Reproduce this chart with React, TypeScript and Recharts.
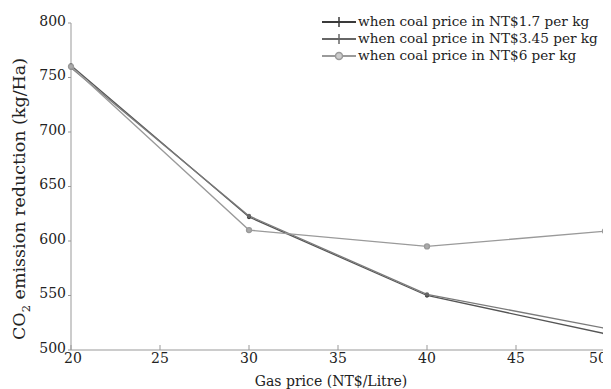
import React from 'react'
import { LineChart, Line, XAxis, YAxis } from 'recharts';

const gasPrice = [20, 30, 40, 50];
const coal17 = [761, 622, 550, 515];
const coal345 = [759, 623, 551, 520];
const coal6 = [760, 610, 595, 609];
const yTicks = [500, 550, 600, 650, 700, 750, 800];
const xTicks = [20, 25, 30, 35, 40, 45, 50];

const data = gasPrice.map((g, i) => ({
    gas: g,
    c1: coal17[i],
    c2: coal345[i],
    c3: coal6[i],
}));

const FONT = '"DejaVu Serif", serif';

const legendItems = [
    { label: 'when coal price in NT$1.7 per kg', color: '#3a3a3a', marker: 'plus' },
    { label: 'when coal price in NT$3.45 per kg', color: '#666', marker: 'plus' },
    { label: 'when coal price in NT$6 per kg', color: '#9a9a9a', marker: 'circle' },
];

const LegendBox = () => (
    <div style={{ position: 'absolute', left: 314, top: 5, fontFamily: FONT, fontSize: 13.6, color: '#222', lineHeight: '17px' }}>
        {legendItems.map((it) => (
            <div key={it.label} style={{ display: 'flex', alignItems: 'center' }}>
                <svg width={34} height={14} style={{ marginRight: 2 }}>
                    <line x1={0} y1={7} x2={34} y2={7} stroke={it.color} strokeWidth={2} />
                    {it.marker === 'plus' ? (
                        <line x1={17} y1={2} x2={17} y2={12} stroke={it.color} strokeWidth={1.5} />
                    ) : (
                        <circle cx={17} cy={7} r={3.5} fill="#ccc" stroke={it.color} strokeWidth={1.5} />
                    )}
                </svg>
                <span style={{ whiteSpace: 'nowrap' }}>{it.label}</span>
            </div>
        ))}
    </div>
);

const YLabel = () => (
    <text
        transform="translate(17,191) rotate(-90)"
        textAnchor="middle"
        fontFamily={FONT}
        fontSize={17.5}
        fill="#222"
    >
        CO<tspan fontSize={11.5} dy={5}>2</tspan><tspan dy={-5}> emission reduction (kg/Ha)</tspan>
    </text>
);

const XLabel = () => (
    <text x={323} y={378} textAnchor="middle" fontFamily={FONT} fontSize={14} fill="#222">
        Gas price (NT$/Litre)
    </text>
);

// keep the first/last x tick labels inside the frame, like the original
const XTick = (props: any) => {
    const { x, y, payload } = props;
    let dx = 0;
    if (payload.value === 20) dx = 2;
    if (payload.value === 50) dx = -5;
    return (
        <text x={x + dx} y={y} dy={10} textAnchor="middle" fontFamily={FONT} fontSize={14} fill="#222">
            {payload.value}
        </text>
    );
};

const App = () => {
    return (
        <div style={{ position: 'relative', width: 603, height: 381 }}>
            <LineChart
                width={603}
                height={381}
                data={data}
                margin={{ top: 15, right: 6, left: 0, bottom: 0 }}
            >
                <XAxis
                    dataKey="gas"
                    type="number"
                    domain={[20, 50]}
                    ticks={xTicks}
                    height={39}
                    stroke="#999"
                    tickSize={-5}
                    tickMargin={8}
                    tick={<XTick />}
                    label={<XLabel />}
                />
                <YAxis
                    domain={[500, 800]}
                    ticks={yTicks}
                    width={63}
                    stroke="#999"
                    tickSize={3}
                    tickMargin={2}
                    tick={{ fontFamily: FONT, fontSize: 14, fill: '#222', dy: -2 }}
                    label={<YLabel />}
                />
                <Line
                    dataKey="c1"
                    type="linear"
                    stroke="#555"
                    strokeWidth={1.3}
                    dot={{ r: 1.5, fill: '#3a3a3a', stroke: '#3a3a3a' }}
                    isAnimationActive={false}
                />
                <Line
                    dataKey="c2"
                    type="linear"
                    stroke="#7a7a7a"
                    strokeWidth={1.3}
                    dot={{ r: 1.5, fill: '#666', stroke: '#666' }}
                    isAnimationActive={false}
                />
                <Line
                    dataKey="c3"
                    type="linear"
                    stroke="#9a9a9a"
                    strokeWidth={1.3}
                    dot={{ r: 2.5, fill: '#aaa', stroke: '#999' }}
                    isAnimationActive={false}
                />
            </LineChart>
            <LegendBox />
        </div>
    );
}

export default App
